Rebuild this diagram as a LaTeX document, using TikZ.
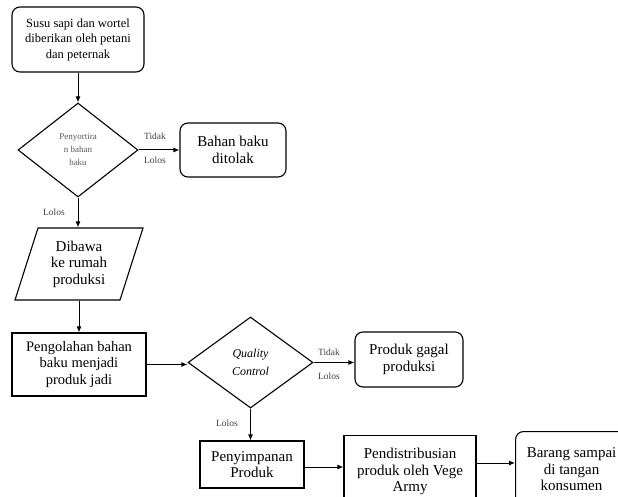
\documentclass[tikz,border=0pt]{standalone}
\usepackage{fontspec}
\setmainfont{Liberation Serif}
\usetikzlibrary{shapes.geometric,arrows.meta}
\begin{document}
\begin{tikzpicture}[x=1pt,y=-1pt,
  line width=1.1pt,
  arr/.style={-{Latex[length=6pt,width=5pt]},line width=1pt},
  rbox/.style={draw,rounded corners=8pt,align=center,inner sep=0pt},
  sbox/.style={draw,align=center,inner sep=0pt},
  dia/.style={draw,diamond,inner sep=0pt,align=center},
  lbl/.style={text=black!75,font=\fontsize{9.5}{11}\selectfont,inner sep=0pt},
  big/.style={font=\fontsize{15}{16.5}\selectfont}
]
\clip (0,0) rectangle (618,497);
\fill[white] (0,0) rectangle (618,497);

\node[rbox,minimum width=132pt,minimum height=65pt,font=\fontsize{12.5}{15.5}\selectfont] (n1) at (78,39.5) {Susu sapi dan wortel\\diberikan oleh petani\\dan peternak};

\node[dia,minimum width=120pt,minimum height=94pt,aspect=1.28,font=\fontsize{9}{13}\selectfont,text=black!65] (d1) at (78,150) {Penyortira\\n bahan\\baku};

\node[rbox,big,minimum width=106pt,minimum height=54pt] (r1) at (233,150) {Bahan baku\\ditolak};

\node[big,align=center,inner sep=0pt,minimum width=105pt,minimum height=72pt] (p1) at (79,264) {Dibawa\\ke rumah\\produksi};
\draw (38,228) -- (143,228) -- (120,300) -- (15,300) -- cycle;

\node[sbox,minimum width=134pt,minimum height=63pt,font=\fontsize{14.5}{16.5}\selectfont] (b2) at (79,364.5) {Pengolahan bahan\\baku menjadi\\produk jadi};

\node[dia,minimum width=125pt,minimum height=91pt,aspect=1.37,font=\itshape\fontsize{12}{18}\selectfont] (d2) at (250.5,362.5) {Quality\\Control};

\node[rbox,big,minimum width=108pt,minimum height=55pt] (r2) at (409,359.5) {Produk gagal\\produksi};

\node[sbox,big,minimum width=104pt,minimum height=47pt] (b3) at (252,464.5) {Penyimpanan\\Produk};

\node[sbox,big,minimum width=132pt,minimum height=72pt,anchor=north] (b4) at (410,435) {Pendistribusian\\produk oleh Vege\\Army};

\node[rbox,big,minimum width=112pt,minimum height=76pt,anchor=north west] (r3) at (515,431) {Barang sampai\\di tangan\\konsumen};

\draw[arr] (n1.south) -- (d1.north);
\draw[arr] (d1.east) -- (r1.west);
\draw[arr] (d1.south) -- (d1.south |- p1.north);
\draw[arr] (p1.south -| b2.north) -- (b2.north);
\draw[arr] (b2.east) -- (b2.east -| d2.west);
\draw[arr] (d2.east) -- (d2.east -| r2.west);
\draw[arr] (d2.south) -- (d2.south |- b3.north);
\draw[arr] (303.5,467) coordinate (e3) -- (e3 -| b4.west);
\draw[arr] (b4.east |- 0,463) coordinate (e4) -- (e4 -| r3.west);

\node[lbl] (t1) at (155,136) {Tidak};
\node[lbl] (l1) at (155,160) {Lolos};
\node[lbl] (l2) at (54,212) {Lolos};
\node[lbl] (t2) at (329,352) {Tidak};
\node[lbl] (l3) at (329,376) {Lolos};
\node[lbl] (l4) at (227,423) {Lolos};
\end{tikzpicture}
\end{document}
